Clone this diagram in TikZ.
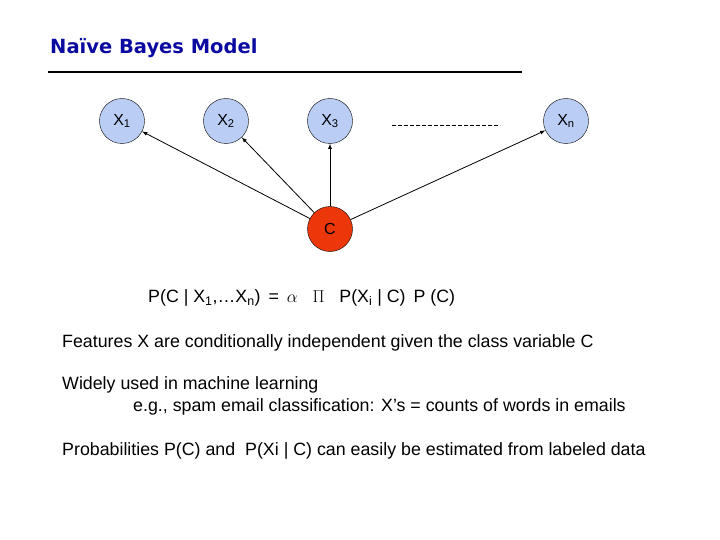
\documentclass[tikz,border=0pt]{standalone}
\usepackage{fontspec}
\setmainfont{Liberation Sans}
\newfontfamily\titlefont{DejaVu Sans}
\definecolor{nodeblue}{RGB}{185,205,245}
\definecolor{classred}{RGB}{235,55,10}
\definecolor{titleblue}{RGB}{10,10,160}
\tikzset{
  feat/.style={circle,draw=black,fill=nodeblue,minimum size=45pt,inner sep=0pt,font=\fontsize{16}{18}\selectfont},
  cls/.style={circle,draw=black,fill=classred,minimum size=45pt,inner sep=0pt,font=\fontsize{16}{18}\selectfont},
  txt/.style={anchor=west,font=\fontsize{17.8}{20}\selectfont}
}
\begin{document}
\begin{tikzpicture}[x=1pt,y=-1pt]
    \useasboundingbox (0,0) rectangle (720,540);

    % title
    \node [anchor=west,inner sep=0pt,text=titleblue,font=\titlefont\bfseries\fontsize{19.5}{21}\selectfont] (title) at (50,48) {Naïve Bayes Model};
    \draw[black,line width=1.3pt] (48,72) -- (522,72);

    % feature nodes
    \node [feat] (x1) at (122,121) {X\textsubscript{1}};
    \node [feat] (x2) at (226,121) {X\textsubscript{2}};
    \node [feat] (x3) at (330,121) {X\textsubscript{3}};
    \node [feat] (xn) at (566,121) {X\textsubscript{n}};
    \coordinate (dotsa) at (392,125);
    \coordinate (dotsb) at (500,125);
    \draw[dashed,dash pattern=on 4pt off 2pt] (dotsa) -- (dotsb);

    % class node
    \node [cls] (c) at (330,229) {C};
    \foreach \f in {x1,x2,x3,xn}
        \draw[->,>=latex,line width=0.8pt] (c) -- (\f);

    % text
    \node [txt,inner sep=0pt] (eq) at (148,298) {P(C | X\textsubscript{1},…X\textsubscript{n}) \,=\, $\alpha$ \; $\Pi$ \; P(X\textsubscript{i} | C) \,P (C)};
    \node [txt,inner sep=0pt] (t1) at (62,343) {Features X are conditionally independent given the class variable C};
    \node [txt,inner sep=0pt] (t2) at (62,385) {Widely used in machine learning};
    \node [txt,inner sep=0pt] (t3) at (133,407) {e.g., spam email classification: X’s = counts of words in emails};
    \node [txt,inner sep=0pt] (t4) at (62,451) {Probabilities P(C) and \;P(Xi | C) can easily be estimated from labeled data};
\end{tikzpicture}
\end{document}
